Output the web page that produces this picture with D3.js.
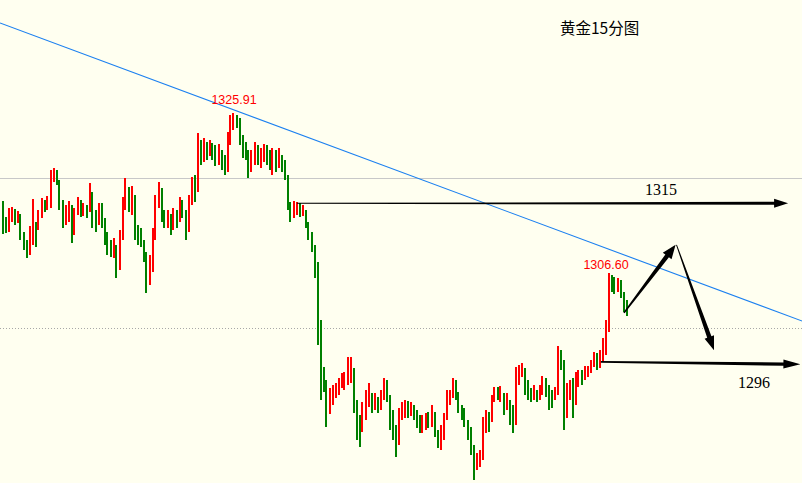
<!DOCTYPE html>
<html><head><meta charset="utf-8">
<script src="https://cdn.jsdelivr.net/npm/d3@7"></script>
<style>html,body{margin:0;padding:0;background:#fffff0;overflow:hidden}svg{display:block}</style>
</head><body><svg id="c" width="802" height="483"></svg>
<script>
// ---- data ----
const title = "黄金15分图";
const firstOpen = 1314.2;
const closes = [
1312.8,1312.0,1313.6,1314.0,1313.2,1313.7,1311.2,1310.0,1309.1,1311.6,
1312.6,1312.0,1313.6,1314.8,1314.4,1315.4,1318.1,1318.8,1317.8,1315.4,
1313.2,1314.0,1314.8,1311.6,1313.6,1314.8,1314.2,1314.4,1314.0,1316.0,
1313.2,1312.8,1314.2,1313.2,1310.8,1309.9,1309.4,1310.0,1307.2,1310.6,
1314.8,1316.9,1315.4,1316.0,1312.4,1311.2,1310.6,1309.1,1305.2,1307.0,
1311.2,1314.8,1316.6,1313.6,1312.8,1313.6,1312.4,1313.6,1313.0,1314.8,
1314.2,1312.0,1314.8,1317.2,1316.4,1321.4,1320.2,1321.7,1321.2,1322.0,
1320.8,1320.2,1321.4,1320.0,1319.6,1322.6,1324.4,1325.6,1325.3,1323.2,
1321.7,1321.2,1319.3,1320.2,1321.7,1320.5,1320.8,1321.4,1320.8,1320.0,
1320.5,1320.0,1320.8,1319.6,1318.4,1314.8,1314.0,1314.4,1314.7,1314.0,
1314.2,1312.8,1311.6,1310.0,1307.9,1301.0,1294.9,1293.7,1290.1,1291.3,
1291.9,1292.5,1293.1,1293.7,1294.0,1294.7,1295.2,1291.3,1288.9,1287.5,
1289.5,1291.3,1292.2,1290.7,1291.3,1290.3,1291.9,1293.1,1291.9,1288.9,
1287.5,1285.9,1288.9,1290.1,1290.7,1290.1,1290.3,1289.9,1288.9,1288.3,
1288.7,1289.1,1288.9,1289.9,1287.7,1286.5,1287.1,1288.9,1291.3,1291.6,
1293.1,1292.3,1290.7,1289.9,1288.9,1287.9,1285.9,1282.9,1283.8,1284.3,
1287.7,1288.9,1288.7,1291.3,1292.3,1291.9,1292.2,1290.7,1291.3,1289.5,
1288.3,1294.3,1294.7,1295.2,1293.1,1292.3,1291.9,1292.3,1291.6,1292.3,
1293.5,1292.8,1291.9,1291.3,1292.2,1296.7,1295.9,1290.1,1291.9,1292.8,
1290.7,1293.1,1294.0,1293.7,1294.7,1294.9,1295.4,1296.1,1295.5,1296.4,
1297.9,1299.7,1305.8,1305.2,1304.8,1305.4,1304.3,1302.8,1302.2];
const highs = [
1315.3,1313.4,1314.4,1314.6,1314.3,1314.1,1313.0,1311.6,1310.6,1312.3,
1315.5,1312.8,1314.2,1315.7,1315.4,1315.9,1319.0,1319.3,1319.0,1317.6,
1314.4,1314.8,1315.3,1314.2,1314.4,1315.8,1315.4,1315.0,1314.8,1317.5,
1316.4,1314.2,1315.0,1315.0,1313.0,1311.6,1310.6,1310.8,1309.6,1311.8,
1315.8,1318.1,1317.0,1317.1,1316.0,1312.3,1312.0,1310.2,1308.8,1308.8,
1312.0,1316.0,1317.6,1316.9,1314.2,1314.2,1313.7,1314.4,1314.2,1315.8,
1315.4,1314.2,1316.0,1318.2,1318.4,1323.5,1322.6,1322.9,1322.4,1322.6,
1322.3,1322.0,1322.1,1321.4,1320.8,1323.6,1325.6,1325.91,1325.7,1325.3,
1323.2,1322.4,1321.4,1321.4,1322.4,1322.0,1321.7,1322.1,1322.0,1321.4,
1321.7,1321.4,1321.7,1320.8,1320.2,1318.1,1315.2,1315.3,1315.2,1315.0,
1314.8,1314.0,1312.8,1311.1,1309.6,1307.9,1299.1,1295.3,1293.1,1292.8,
1293.1,1293.4,1294.0,1294.6,1294.7,1296.5,1296.5,1293.7,1291.3,1289.5,
1291.0,1292.5,1293.4,1291.9,1292.2,1291.7,1292.5,1294.0,1293.7,1291.3,
1290.1,1288.3,1290.3,1291.0,1291.3,1291.2,1291.0,1290.7,1290.1,1289.5,
1289.5,1289.7,1289.9,1290.7,1289.7,1287.7,1288.3,1289.7,1292.5,1292.5,
1294.0,1293.7,1291.9,1290.7,1290.3,1288.9,1288.1,1284.7,1284.9,1285.3,
1289.3,1290.1,1289.9,1291.9,1292.9,1292.9,1293.0,1291.9,1292.2,1291.3,
1290.7,1295.3,1295.5,1295.8,1294.9,1293.7,1292.8,1293.1,1292.5,1293.1,
1294.2,1294.0,1293.1,1292.5,1292.9,1297.8,1297.3,1296.1,1293.4,1293.7,
1294.0,1294.7,1294.9,1294.9,1295.4,1295.4,1296.1,1297.1,1297.0,1297.3,
1298.8,1301.0,1306.6,1306.4,1306.1,1306.0,1305.8,1304.0,1303.4];
const lows = [
1311.3,1311.4,1311.6,1312.8,1312.4,1312.6,1310.6,1309.4,1308.4,1308.8,
1310.0,1309.7,1311.8,1313.2,1314.0,1314.2,1314.4,1317.6,1317.2,1314.2,
1312.0,1312.4,1312.8,1310.2,1311.2,1313.6,1313.4,1313.5,1313.2,1314.0,
1312.0,1311.6,1312.4,1312.0,1310.0,1308.8,1308.5,1308.4,1306.0,1307.0,
1310.6,1314.2,1314.0,1313.6,1310.6,1310.0,1309.7,1307.9,1304.2,1305.4,
1306.7,1310.6,1314.4,1312.8,1312.0,1312.0,1311.2,1311.8,1312.0,1312.8,
1313.2,1310.6,1311.6,1314.8,1315.2,1316.6,1319.6,1320.0,1320.2,1320.7,
1320.2,1319.5,1319.6,1319.0,1318.4,1318.8,1322.0,1323.8,1324.1,1322.0,
1320.5,1320.2,1318.1,1318.8,1319.6,1319.6,1319.3,1320.0,1319.6,1319.0,
1318.4,1318.8,1319.3,1318.8,1317.8,1314.2,1312.8,1313.2,1313.6,1313.4,
1313.5,1312.0,1310.6,1309.1,1306.0,1297.9,1291.3,1292.3,1288.1,1289.6,
1290.7,1291.6,1291.9,1292.8,1292.5,1293.1,1293.4,1289.7,1286.5,1285.6,
1287.9,1288.9,1290.5,1289.7,1290.1,1289.7,1290.1,1291.3,1291.0,1287.7,
1286.5,1284.4,1286.5,1288.9,1289.1,1289.1,1289.4,1288.9,1287.9,1287.3,
1287.3,1287.7,1287.9,1288.1,1286.8,1285.5,1285.3,1286.5,1290.1,1290.7,
1291.7,1291.3,1289.7,1288.9,1288.1,1286.5,1284.7,1281.7,1282.9,1283.2,
1284.1,1287.3,1287.5,1289.5,1291.1,1291.3,1291.1,1289.5,1290.1,1288.3,
1287.3,1288.9,1293.1,1294.1,1291.9,1291.3,1291.1,1291.3,1291.0,1291.3,
1291.9,1291.7,1290.1,1290.3,1291.3,1291.9,1294.9,1287.7,1289.1,1291.3,
1289.1,1292.3,1292.9,1293.1,1294.0,1294.1,1294.6,1295.3,1294.9,1295.2,
1295.9,1296.7,1299.5,1304.3,1304.1,1304.3,1303.6,1301.9,1301.4];
const peakLabels = [{i:77, price:1325.91, text:"1325.91"}, {i:202, price:1306.60, text:"1306.60"}];
const solidLevel = 1318;
const dottedLevel = 1300;
const trendLine = [{i:-0.5, p:1336.73}, {i:267, p:1300.8}];
const arrowPaths = [
  {from:{i:98.5, p:1315.0}, to:{i:262.2, p:1315.0}},
  {from:{i:199.8, p:1295.9}, to:{i:266.3, p:1295.6}},
  {from:{i:207.5, p:1301.8}, to:{i:224.7, p:1310.0}},
  {from:{i:225.0, p:1310.0}, to:{i:237.5, p:1297.3}}
];
const targetLabels = [{i:214.5, p:1316.0, text:"1315"}, {i:245.5, p:1292.75, text:"1296"}];

// ---- drawing ----
const W = 802, H = 483;
const svg = d3.select("#c");
svg.append("rect").attr("width", W).attr("height", H).attr("fill", "#fffff0");
const x = d3.scaleLinear().domain([0, 267]).range([1.5, 802.5]);
const y = d3.scaleLinear().domain([1281.3, 1339.5]).range([H, 0]);

const candles = closes.map((c, i) => ({i, o: i === 0 ? firstOpen : closes[i-1], c, h: highs[i], l: lows[i]}));

// reference lines
svg.append("line").attr("x1", 0).attr("x2", W)
  .attr("y1", Math.round(y(solidLevel)) + 0.5).attr("y2", Math.round(y(solidLevel)) + 0.5)
  .attr("stroke", "#c8c8c8").attr("stroke-width", 1);
svg.append("line").attr("x1", 0).attr("x2", W)
  .attr("y1", Math.round(y(dottedLevel)) + 0.5).attr("y2", Math.round(y(dottedLevel)) + 0.5)
  .attr("stroke", "#a8a8a8").attr("stroke-width", 1).attr("stroke-dasharray", "1,2");

const color = d => d.c > d.o ? "#ff0000" : (d.c < d.o ? "#008000" : "#000000");
const g = svg.append("g").attr("shape-rendering", "crispEdges");
g.selectAll("rect.w").data(candles).join("rect").attr("class", "w")
  .attr("x", d => Math.round(x(d.i)))
  .attr("width", 2)
  .attr("y", d => Math.round(y(Math.max(d.h, d.o, d.c))))
  .attr("height", d => Math.max(1, Math.round(y(Math.min(d.l, d.o, d.c))) - Math.round(y(Math.max(d.h, d.o, d.c)))))
  .attr("fill", color);

// trend line
svg.append("line")
  .attr("x1", x(trendLine[0].i)).attr("y1", y(trendLine[0].p))
  .attr("x2", x(trendLine[1].i)).attr("y2", y(trendLine[1].p))
  .attr("stroke", "#1c80f0").attr("stroke-width", 1.1);

// arrows
const arrowStyle = [
  {w0:1, w1:3, head:14, hw:9},
  {w0:1.6, w1:3.4, head:17, hw:9},
  {w0:1.6, w1:4.5, head:14, hw:11},
  {w0:0.9, w1:4.5, head:14, hw:10}
];
arrowPaths.forEach((a, k) => {
  const s = arrowStyle[k];
  const x0 = x(a.from.i), y0 = y(a.from.p), x1 = x(a.to.i), y1 = y(a.to.p);
  const len = Math.hypot(x1 - x0, y1 - y0);
  const ux = (x1 - x0) / len, uy = (y1 - y0) / len;
  const nx = -uy, ny = ux;
  const bx = x1 - ux * s.head, by = y1 - uy * s.head;
  const pts = [
    [x0 + nx * s.w0 / 2, y0 + ny * s.w0 / 2],
    [bx + nx * s.w1 / 2, by + ny * s.w1 / 2],
    [bx + nx * s.hw / 2, by + ny * s.hw / 2],
    [x1, y1],
    [bx - nx * s.hw / 2, by - ny * s.hw / 2],
    [bx - nx * s.w1 / 2, by - ny * s.w1 / 2],
    [x0 - nx * s.w0 / 2, y0 - ny * s.w0 / 2]
  ];
  svg.append("polygon").attr("points", pts.map(p => p.join(",")).join(" ")).attr("fill", "#000");
});

// peak labels
const peakDx = [1.5, -1.5];
const peakDy = [-9, -4];
peakLabels.forEach((d, k) => {
  svg.append("text").attr("x", x(d.i) + peakDx[k]).attr("y", y(d.price) + peakDy[k])
    .attr("text-anchor", "middle").attr("fill", "#ff0000")
    .attr("font-family", "Liberation Sans, Arial, sans-serif").attr("font-size", 12.5)
    .text(d.text);
});

// target labels
targetLabels.forEach(d => {
  svg.append("text").attr("x", x(d.i)).attr("y", y(d.p))
    .attr("fill", "#000").attr("font-family", "Liberation Serif, serif").attr("font-size", 16)
    .text(d.text);
});

// title
svg.append("text").attr("x", 560).attr("y", 34)
  .attr("fill", "#000").attr("font-family", "Noto Sans CJK SC, sans-serif").attr("font-size", 15.5)
  .text(title);
</script>
</body></html>
